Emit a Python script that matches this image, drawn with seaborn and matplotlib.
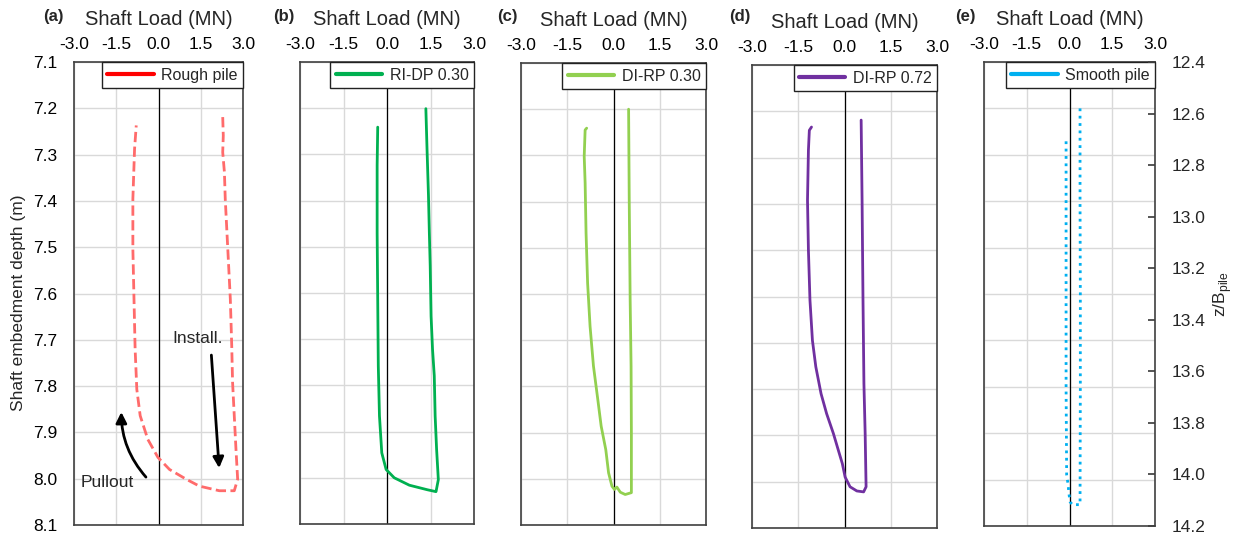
import numpy as np
import pandas as pd
import matplotlib
matplotlib.use('Agg')
import matplotlib.pyplot as plt
from matplotlib.lines import Line2D
import seaborn as sns

# --- dados (carga no fuste em MN, profundidade em m) ---
rough_load = [2.28, 2.30, 2.28, 2.34, 2.37, 2.46, 2.55, 2.60, 2.63, 2.69, 2.75, 2.81,
              2.69, 2.16, 1.45, 0.98, 0.39, -0.02, -0.38, -0.65, -0.77, -0.83,
              -0.87, -0.91, -0.91, -0.85, -0.79]
rough_depth = [7.219, 7.259, 7.295, 7.338, 7.396, 7.504, 7.612, 7.713, 7.792, 7.864, 7.936, 8.001,
               8.026, 8.026, 8.016, 8.001, 7.980, 7.954, 7.915, 7.864, 7.807, 7.720,
               7.612, 7.504, 7.396, 7.288, 7.237]

ridp_load = [1.34, 1.38, 1.43, 1.46, 1.49, 1.52, 1.57, 1.63, 1.66, 1.71, 1.77, 1.69,
             1.40, 0.77, 0.25, -0.03, -0.18, -0.26, -0.30, -0.32, -0.34, -0.34, -0.32]
ridp_depth = [7.201, 7.288, 7.389, 7.469, 7.541, 7.650, 7.722, 7.779, 7.866, 7.938, 8.004, 8.030,
              8.026, 8.016, 8.000, 7.982, 7.946, 7.866, 7.758, 7.614, 7.470, 7.324, 7.241]

dirp30_load = [0.49, 0.51, 0.54, 0.57, 0.58, 0.58, 0.38, 0.22, 0.11, 0.03, -0.05, -0.16,
               -0.25, -0.40, -0.51, -0.65, -0.76, -0.84, -0.89, -0.92, -0.95, -0.92, -0.87]
dirp30_depth = [7.200, 7.396, 7.612, 7.756, 7.900, 8.030, 8.034, 8.029, 8.018, 8.023, 8.016, 7.987,
                7.937, 7.886, 7.828, 7.756, 7.670, 7.576, 7.468, 7.360, 7.302, 7.245, 7.241]

dirp72_load = [0.54, 0.57, 0.60, 0.63, 0.67, 0.70, 0.62, 0.40, 0.18, 0.02, -0.07, -0.20,
               -0.36, -0.58, -0.76, -0.93, -1.04, -1.12, -1.17, -1.20, -1.17, -1.14, -1.07]
dirp72_depth = [7.219, 7.392, 7.608, 7.788, 7.896, 8.011, 8.022, 8.020, 8.011, 7.990, 7.961, 7.932,
                7.896, 7.853, 7.810, 7.752, 7.695, 7.608, 7.500, 7.392, 7.284, 7.241, 7.234]

smooth_load = [0.37, 0.37, 0.38, 0.38, 0.37, 0.10, 0.02, -0.02, -0.05, -0.10, -0.12, -0.12, -0.12]
smooth_depth = [7.200, 7.400, 7.600, 7.800, 8.054, 8.054, 8.048, 8.030, 8.010, 7.990, 7.800, 7.500, 7.270]

paineis = ['(a)', '(b)', '(c)', '(d)', '(e)']
legendas = ['Rough pile', 'RI-DP 0.30', 'DI-RP 0.30', 'DI-RP 0.72', 'Smooth pile']
cores_linha = ['#FF6B6B', '#00B050', '#92D050', '#7030A0', '#00B0F0']
cores_legenda = ['#FF0000', '#00B050', '#92D050', '#7030A0', '#00B0F0']
estilos = ['--', '-', '-', '-', ':']

x_ticks = [-3.0, -1.5, 0.0, 1.5, 3.0]
y_ticks = [7.1, 7.2, 7.3, 7.4, 7.5, 7.6, 7.7, 7.8, 7.9, 8.0, 8.1]
zb_ticks = [12.4, 12.6, 12.8, 13.0, 13.2, 13.4, 13.6, 13.8, 14.0, 14.2]

series = [(rough_load, rough_depth), (ridp_load, ridp_depth), (dirp30_load, dirp30_depth),
          (dirp72_load, dirp72_depth), (smooth_load, smooth_depth)]

W, H = 1241, 537
# caixas dos eixos em pixels: esquerda, direita, topo, base
caixas = [(74, 243, 62, 525), (300, 474, 62, 524), (521, 706, 63, 525),
          (752, 937, 65, 528), (984, 1155, 62, 526)]
x_rotulos = [53, 284, 507, 740, 965]

sns.set_theme(style='white')
plt.rcParams['font.family'] = ['Liberation Sans', 'DejaVu Sans']
plt.rcParams['mathtext.fontset'] = 'custom'
plt.rcParams['mathtext.rm'] = 'Liberation Sans'

fig = plt.figure(figsize=(W / 100, H / 100), dpi=100)
fig.patch.set_facecolor('white')

eixos = []
for i, (l, r, t, b) in enumerate(caixas):
    ax = fig.add_axes([l / W, 1 - b / H, (r - l) / W, (b - t) / H])
    eixos.append(ax)
    ax.set_facecolor('white')
    carga, prof = series[i]
    df = pd.DataFrame({'carga': carga, 'prof': prof})
    sns.lineplot(data=df, x='carga', y='prof', sort=False, estimator=None, ax=ax,
                 color=cores_linha[i], linestyle=estilos[i], linewidth=2.0, legend=False)
    ax.axvline(0, color='black', lw=0.9, zorder=1)

    ax.set_xlim(-3.0, 3.0)
    ax.set_ylim(8.1, 7.1)
    ax.set_xticks(x_ticks)
    ax.set_xticklabels([f'{v:.1f}' for v in x_ticks])
    ax.set_yticks(y_ticks)
    ax.grid(True, color='#D9D9D9', lw=1.0)
    ax.set_axisbelow(True)
    ax.xaxis.tick_top()
    ax.xaxis.set_label_position('top')
    ax.set_xlabel('Shaft Load (MN)', fontsize=14.5, labelpad=8)
    ax.tick_params(axis='x', length=0, labelsize=12.5, pad=7.5, colors='black')
    ax.tick_params(axis='y', length=0, labelsize=12.5, pad=12, colors='black')
    if i == 0:
        ax.set_yticklabels([f'{v:.1f}' for v in y_ticks])
        ax.set_ylabel('Shaft embedment depth (m)', fontsize=12.5)
        ax.yaxis.set_label_coords(-0.285, 0.48)
    else:
        ax.set_yticklabels([])
        ax.set_ylabel('')
    for s in ax.spines.values():
        s.set_visible(True)
        s.set_color('#404040')
        s.set_linewidth(1.2)

    alca = Line2D([0], [0], color=cores_legenda[i], lw=3)
    leg = ax.legend(handles=[alca], labels=[legendas[i]], loc='upper right',
                    bbox_to_anchor=(1, 1), borderaxespad=0, fancybox=False,
                    framealpha=1, edgecolor='#222222', fontsize=11.5,
                    handlelength=2.9, handletextpad=0.45, borderpad=0.35)
    leg.get_frame().set_linewidth(1.0)

    fig.text(x_rotulos[i] / W, 1 - 17 / H, paineis[i], fontsize=12, fontweight='bold',
             ha='center', va='center')

# anotacoes de instalacao e arranque
ax = eixos[0]
ax.annotate('', xy=(2.16, 7.983), xytext=(1.87, 7.727),
            arrowprops=dict(arrowstyle='-|>', color='black', lw=2, mutation_scale=16))
ax.text(1.39, 7.698, 'Install.', fontsize=12.5, ha='center', va='center')
ax.annotate('', xy=(-1.32, 7.85), xytext=(-0.38, 8.001),
            arrowprops=dict(arrowstyle='-|>', color='black', lw=2, mutation_scale=16,
                            connectionstyle='arc3,rad=-0.2'))
ax.text(-1.83, 8.008, 'Pullout', fontsize=12.5, ha='center', va='center')

# eixo secundario z/B
ax2 = eixos[4].twinx()
ax2.set_ylim(14.2, 12.4)
ax2.set_yticks(zb_ticks)
ax2.set_yticklabels([f'{v:.1f}' for v in zb_ticks])
ax2.tick_params(axis='y', direction='in', length=5, color='#404040', labelsize=12.5, pad=12)
ax2.set_ylabel(r'z/B$_{\mathrm{pile}}$', fontsize=12.5, labelpad=4)
ax2.grid(False)
for s in ax2.spines.values():
    s.set_visible(False)

fig.savefig('out.png', dpi=100)
